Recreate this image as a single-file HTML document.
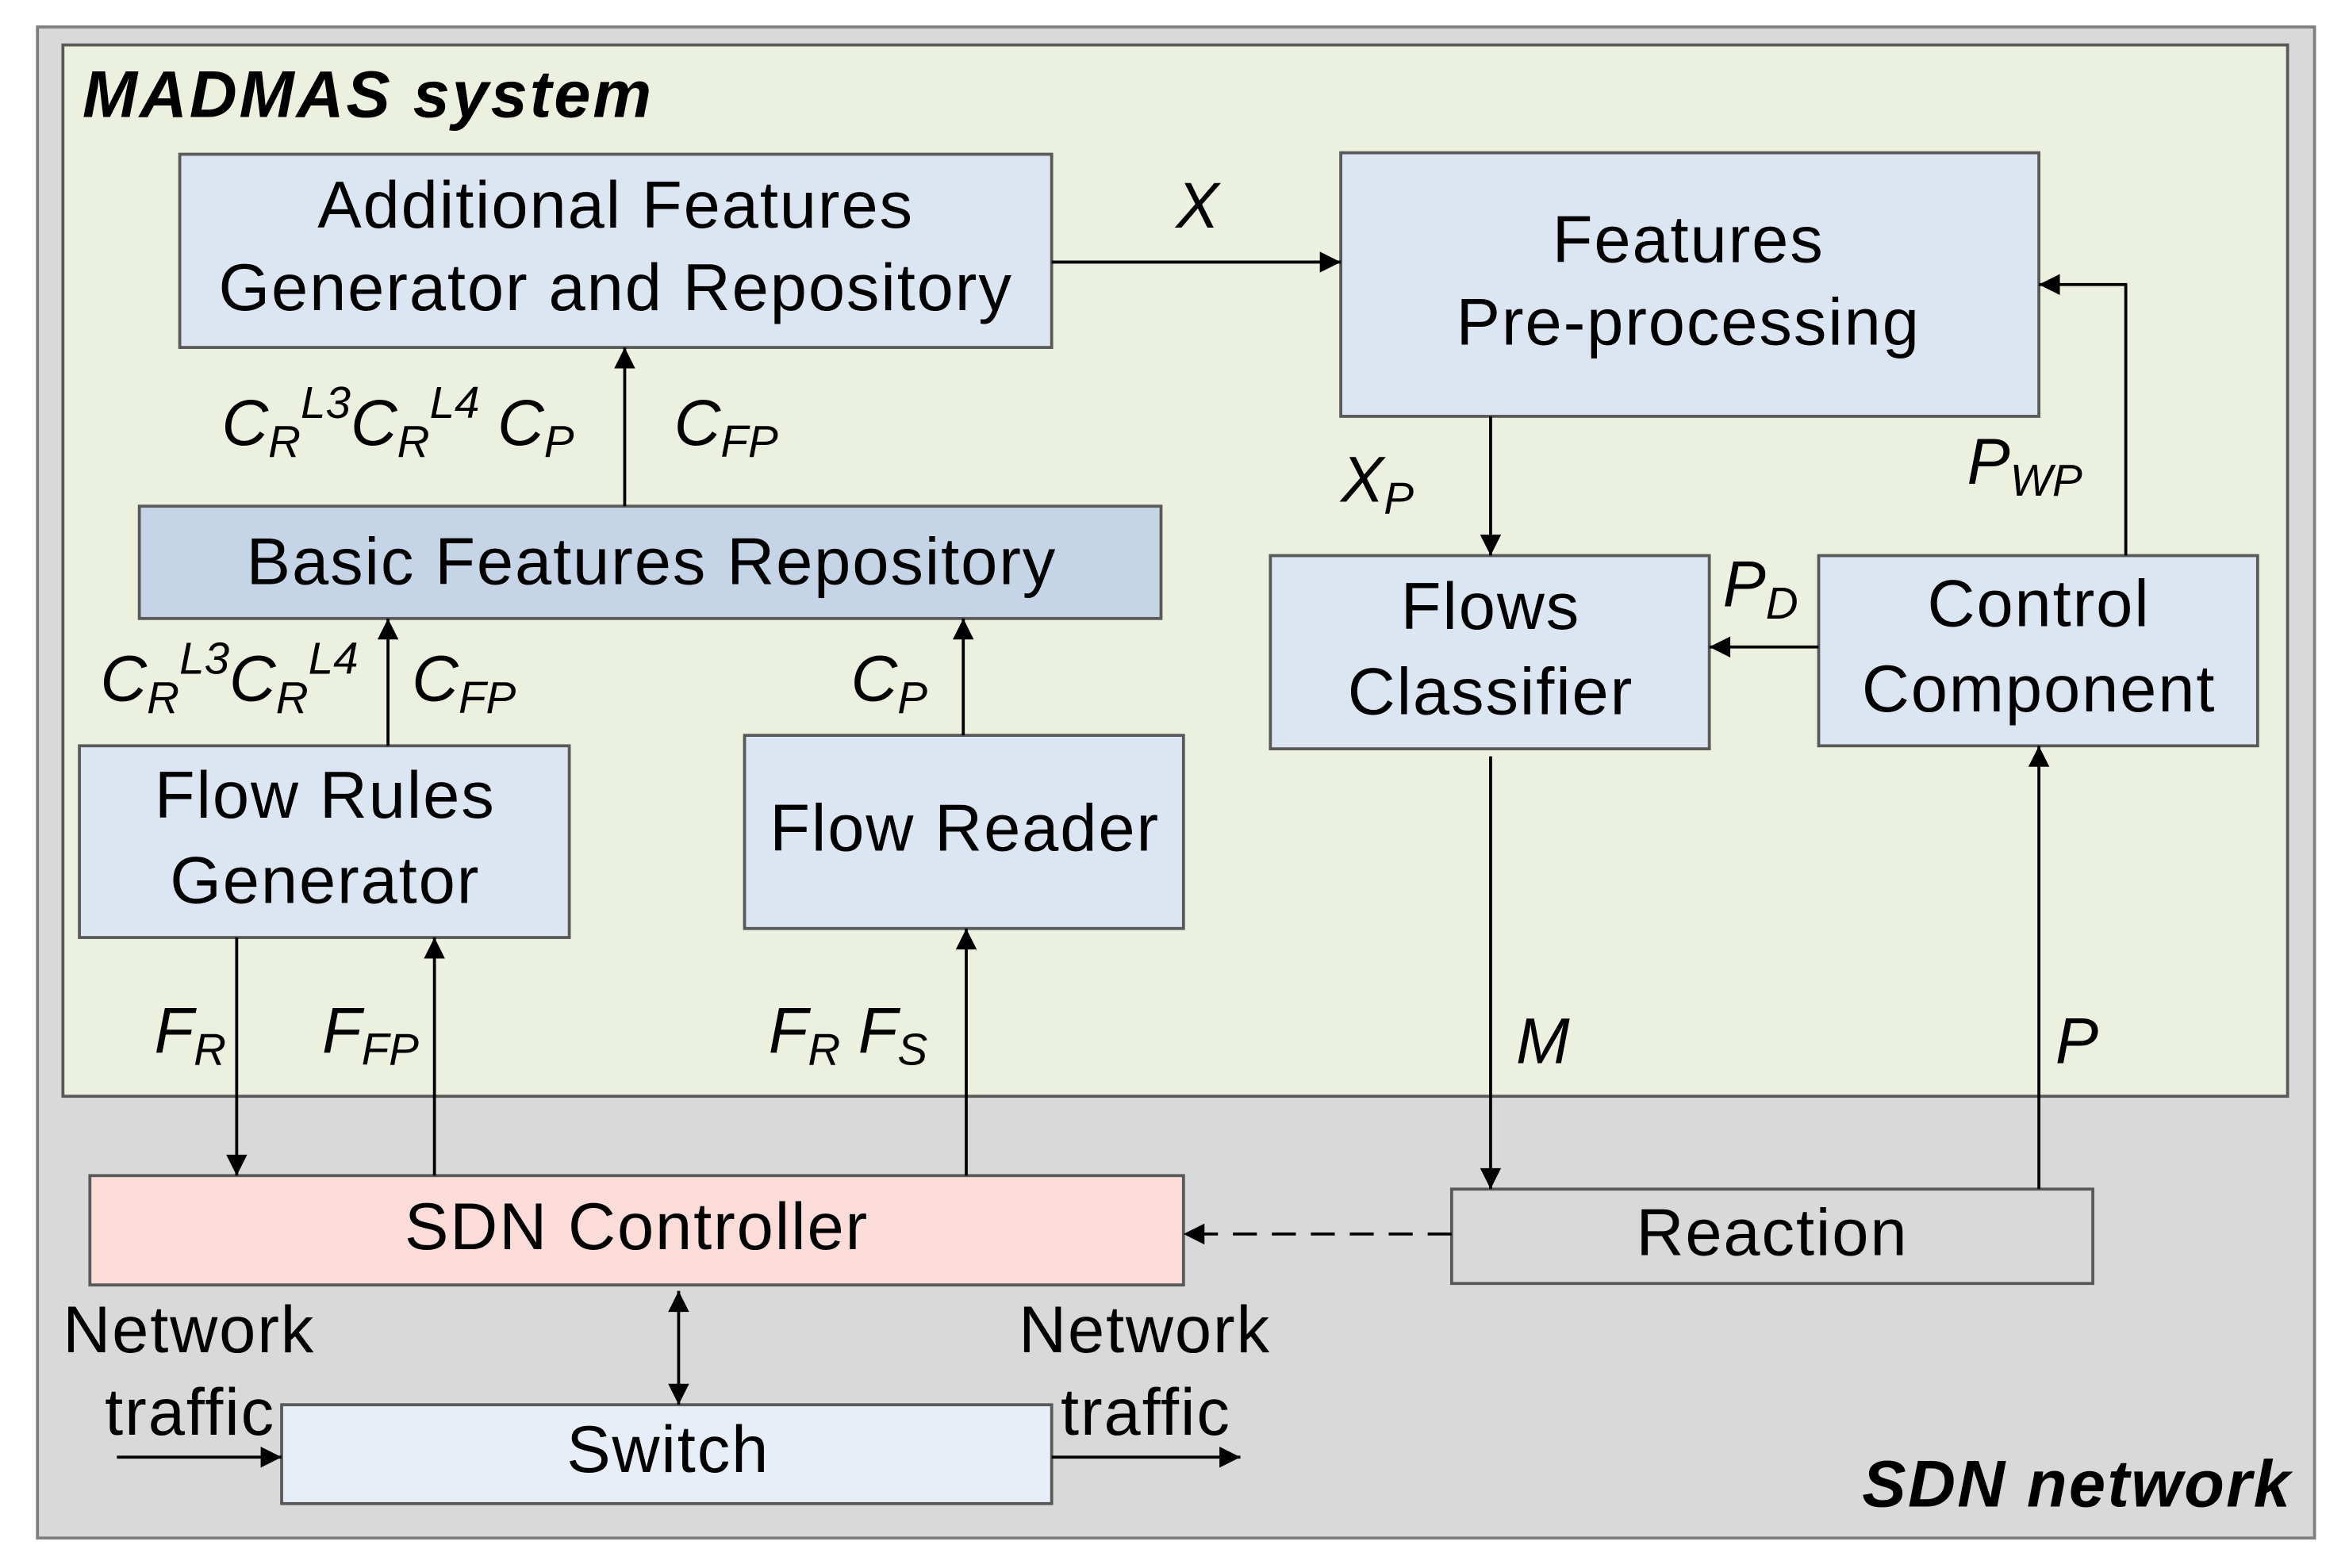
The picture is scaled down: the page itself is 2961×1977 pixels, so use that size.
<!DOCTYPE html>
<html><head><meta charset="utf-8"><style>
html,body{margin:0;padding:0;background:#fff;}
svg{display:block;}
text{font-family:"Liberation Sans",Arial,sans-serif;fill:#000;}
.t{font-size:44px;text-anchor:middle;letter-spacing:1px;}
.n{font-size:44px;letter-spacing:1px;}
.l{font-size:43px;font-style:italic;}
.s{font-size:30px;}
</style></head><body>
<svg width="2961" height="1977" viewBox="0 0 1568 1047" preserveAspectRatio="none" xmlns="http://www.w3.org/2000/svg">
<defs>
<marker id="a" viewBox="0 0 10 10" refX="10" refY="5" markerWidth="18" markerHeight="14" markerUnits="userSpaceOnUse" orient="auto-start-reverse"><path d="M0,0 L10,5 L0,10 z" fill="#000"/></marker>
</defs>
<rect x="0" y="0" width="1568" height="1047" fill="#fff"/>
<rect x="25" y="18" width="1520" height="1009" fill="#d9d9d9" stroke="#7f7f7f" stroke-width="2"/>
<rect x="42" y="30" width="1485" height="702" fill="#ebf1de" stroke="#595959" stroke-width="2"/>
<text x="55" y="78" style="font-size:44px;font-weight:bold;font-style:italic;letter-spacing:1.5px">MADMAS system</text>
<text x="1530" y="1006" style="font-size:44px;font-weight:bold;font-style:italic;text-anchor:end;letter-spacing:1.2px">SDN network</text>
<g stroke="#595959" stroke-width="2">
<rect x="120" y="103" width="582" height="129" fill="#dce6f2"/>
<rect x="895" y="102" width="466" height="176" fill="#dce6f2"/>
<rect x="93" y="338" width="682" height="75" fill="#c6d4e7"/>
<rect x="53" y="498" width="327" height="128" fill="#dce6f2"/>
<rect x="497" y="491" width="293" height="129" fill="#dce6f2"/>
<rect x="848" y="371" width="293" height="129" fill="#dce6f2"/>
<rect x="1214" y="371" width="293" height="127" fill="#dce6f2"/>
<rect x="60" y="785" width="730" height="73" fill="#fcdcd8"/>
<rect x="969" y="794" width="428" height="63" fill="#d9d9d9"/>
<rect x="188" y="938" width="514" height="66" fill="#e8eef7"/>
</g>
<text class="t" x="411" y="152">Additional Features</text>
<text class="t" x="411" y="207">Generator and Repository</text>
<text class="t" x="1127" y="175">Features</text>
<text class="t" x="1127" y="230">Pre-processing</text>
<text class="t" x="435" y="390">Basic Features Repository</text>
<text class="t" x="217" y="546">Flow Rules</text>
<text class="t" x="217" y="603">Generator</text>
<text class="t" x="644" y="568">Flow Reader</text>
<text class="t" x="995" y="420">Flows</text>
<text class="t" x="995" y="477">Classifier</text>
<text class="t" x="1361" y="418">Control</text>
<text class="t" x="1361" y="475">Component</text>
<text class="t" x="425" y="834">SDN Controller</text>
<text class="t" x="1183" y="838">Reaction</text>
<text class="t" x="446" y="983">Switch</text>
<text class="n" x="42" y="903">Network</text>
<text class="n" x="70" y="958">traffic</text>
<text class="n" x="680" y="903">Network</text>
<text class="n" x="708" y="958">traffic</text>
<g stroke="#000" stroke-width="2" fill="none">
<line x1="702" y1="175" x2="895" y2="175" marker-end="url(#a)"/>
<line x1="417" y1="338" x2="417" y2="232" marker-end="url(#a)"/>
<line x1="259" y1="498" x2="259" y2="413" marker-end="url(#a)"/>
<line x1="643" y1="491" x2="643" y2="413" marker-end="url(#a)"/>
<line x1="995" y1="278" x2="995" y2="371" marker-end="url(#a)"/>
<line x1="1214" y1="432" x2="1141" y2="432" marker-end="url(#a)"/>
<polyline points="1419,371 1419,190 1361,190" marker-end="url(#a)"/>
<line x1="158" y1="626" x2="158" y2="785" marker-end="url(#a)"/>
<line x1="290" y1="785" x2="290" y2="626" marker-end="url(#a)"/>
<line x1="645" y1="785" x2="645" y2="620" marker-end="url(#a)"/>
<line x1="995" y1="505" x2="995" y2="794" marker-end="url(#a)"/>
<line x1="1361" y1="794" x2="1361" y2="498" marker-end="url(#a)"/>
<line x1="969" y1="824" x2="790" y2="824" stroke-dasharray="16,10" marker-end="url(#a)"/>
<line x1="453" y1="862" x2="453" y2="938" marker-start="url(#a)" marker-end="url(#a)"/>
<line x1="78" y1="973" x2="188" y2="973" marker-end="url(#a)"/>
<line x1="702" y1="973" x2="828" y2="973" marker-end="url(#a)"/>
</g>
<text class="l" x="785" y="152">X</text>
<text class="l" x="148" y="297">C<tspan class="s" dy="8">R</tspan><tspan class="s" dy="-26">L3</tspan><tspan dy="18">C</tspan><tspan class="s" dy="8">R</tspan><tspan class="s" dy="-26">L4</tspan><tspan dy="18"> C</tspan><tspan class="s" dy="8">P</tspan></text>
<text class="l" x="450" y="297">C<tspan class="s" dy="8">FP</tspan></text>
<text class="l" x="67" y="468">C<tspan class="s" dy="8">R</tspan><tspan class="s" dy="-26">L3</tspan><tspan dy="18">C</tspan><tspan class="s" dy="8">R</tspan><tspan class="s" dy="-26">L4</tspan></text>
<text class="l" x="275" y="468">C<tspan class="s" dy="8">FP</tspan></text>
<text class="l" x="568" y="468">C<tspan class="s" dy="8">P</tspan></text>
<text class="l" x="895" y="335">X<tspan class="s" dy="8">P</tspan></text>
<text class="l" x="1150" y="405">P<tspan class="s" dy="8">D</tspan></text>
<text class="l" x="1313" y="323">P<tspan class="s" dy="8">WP</tspan></text>
<text class="l" x="103" y="703">F<tspan class="s" dy="8">R</tspan></text>
<text class="l" x="215" y="703">F<tspan class="s" dy="8">FP</tspan></text>
<text class="l" x="513" y="703">F<tspan class="s" dy="8">R</tspan><tspan dy="-8"> F</tspan><tspan class="s" dy="8">S</tspan></text>
<text class="l" x="1012" y="710">M</text>
<text class="l" x="1372" y="710">P</text>
</svg>
</body></html>
